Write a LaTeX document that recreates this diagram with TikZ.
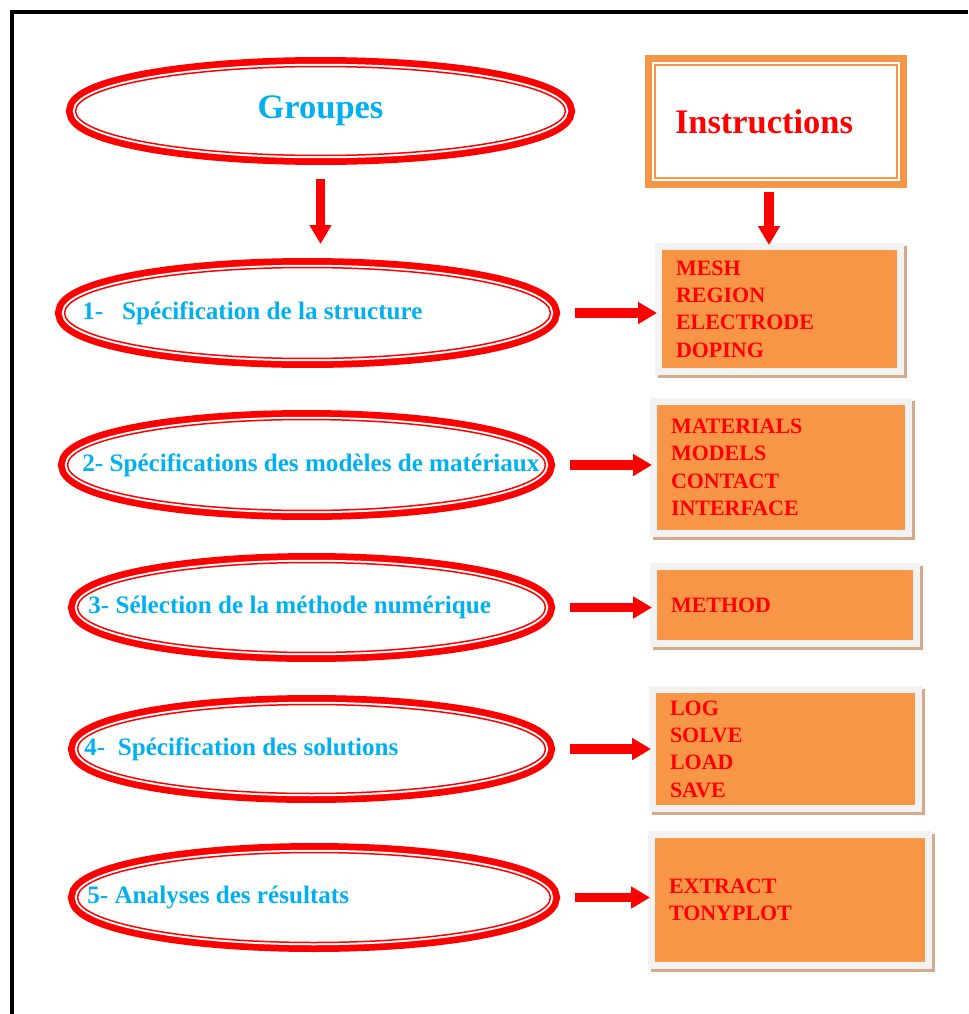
\documentclass[tikz,border=0pt]{standalone}
\usepackage{fontspec}
\setmainfont{Liberation Serif}
\usetikzlibrary{arrows.meta,positioning,shapes.geometric}
\definecolor{bleu}{RGB}{0,176,240}
\definecolor{orangefond}{RGB}{247,150,70}
\definecolor{grisclair}{RGB}{242,242,242}
\definecolor{ombre}{RGB}{212,170,138}

\begin{document}
\begin{tikzpicture}[x=0.02cm,y=-0.02cm]
\tikzstyle{groupe}=[ellipse, fill=white, draw=red, line width=0.03cm, outer sep=0.19cm,
  preaction={draw=red, line width=0.38cm}, preaction={draw=white, line width=0.11cm}]
\tikzstyle{texte}=[inner sep=0pt, text=bleu, font=\fontsize{14.3}{17}\selectfont\bfseries]
\tikzstyle{boite}=[rectangle, fill=orangefond, inner xsep=0.28cm, inner ysep=0pt, outer sep=0pt,
  align=left, text=red, font=\fontsize{12.5}{15.6}\selectfont\bfseries,
  preaction={draw=ombre, line width=0.28cm, transform canvas={shift={(0.06cm,-0.06cm)}}},
  preaction={draw=grisclair, line width=0.28cm}]
\tikzstyle{fleche}=[draw=red, line width=0.19cm, -{Triangle[length=0.38cm,width=0.42cm]},
  shorten <=0.3cm, shorten >=0.1cm]
\useasboundingbox (0,0) rectangle (968,1014);
\draw[line width=0.08cm] (12,1014) -- (12,12) -- (968,12);

% titres
\node[groupe, minimum width=9.8cm, minimum height=1.78cm, text=bleu,
  font=\fontsize{19.6}{24}\selectfont\bfseries] (g) at (320.5,111) {Groupes};
\node[rectangle, fill=white, draw=orangefond, line width=0.04cm, outer sep=0.2cm,
  preaction={draw=orangefond, line width=0.4cm}, preaction={draw=white, line width=0.12cm},
  minimum height=2.26cm, text width=4.04cm, inner xsep=0.4cm, align=left, text=red,
  font=\fontsize{19.6}{24}\selectfont\bfseries] (ins) at (776,121.5) {Instructions};

% groupes
\node[groupe, minimum width=9.72cm, minimum height=1.82cm] (e1) at (307.5,313) {};
\node[texte, right=0.54cm of e1.west] (t1) {1-~~~Spécification de la structure};
\node[groupe, minimum width=9.56cm, minimum height=1.82cm] (e2) at (306.5,465) {};
\node[texte, right=0.48cm of e2.west] (t2) {2-~Spécifications des modèles de matériaux};
\node[groupe, minimum width=9.36cm, minimum height=1.8cm] (e3) at (311.5,607.5) {};
\node[texte, right=0.4cm of e3.west] (t3) {3-~Sélection de la méthode numérique};
\node[groupe, minimum width=9.36cm, minimum height=1.78cm] (e4) at (311.5,749) {};
\node[texte, right=0.32cm of e4.west] (t4) {4-~~Spécification des solutions};
\node[groupe, minimum width=9.46cm, minimum height=1.8cm] (e5) at (314,897.5) {};
\node[texte, right=0.38cm of e5.west] (t5) {5-~Analyses des résultats};

% instructions
\node[boite, minimum height=2.36cm, text width=4.14cm] (b1) at (779.5,309) {MESH\\REGION\\ELECTRODE\\DOPING};
\node[boite, minimum height=2.5cm, text width=4.4cm] (b2) at (781,467.5) {MATERIALS\\MODELS\\CONTACT\\INTERFACE};
\node[boite, minimum height=1.4cm, text width=4.56cm] (b3) at (785,605) {METHOD};
\node[boite, minimum height=2.24cm, text width=4.62cm] (b4) at (785.5,749) {LOG\\SOLVE\\LOAD\\SAVE};
\node[boite, minimum height=2.48cm, text width=4.84cm] (b5) at (790,900) {EXTRACT\\TONYPLOT};

% fleches
\draw[fleche, shorten <=0.28cm, shorten >=0.28cm] (g.south) -- (g.south |- e1.north);
\draw[fleche, shorten <=0.08cm] ([xshift=-0.14cm]ins.south) -- ([xshift=-0.14cm]ins.south |- b1.north);
\draw[fleche] (e1.east) -- (e1.east -| b1.west);
\draw[fleche] (e2.east) -- (e2.east -| b2.west);
\draw[fleche] (e3.east) -- (e3.east -| b3.west);
\draw[fleche] (e4.east) -- (e4.east -| b4.west);
\draw[fleche] (e5.east) -- (e5.east -| b5.west);
\end{tikzpicture}
\end{document}
